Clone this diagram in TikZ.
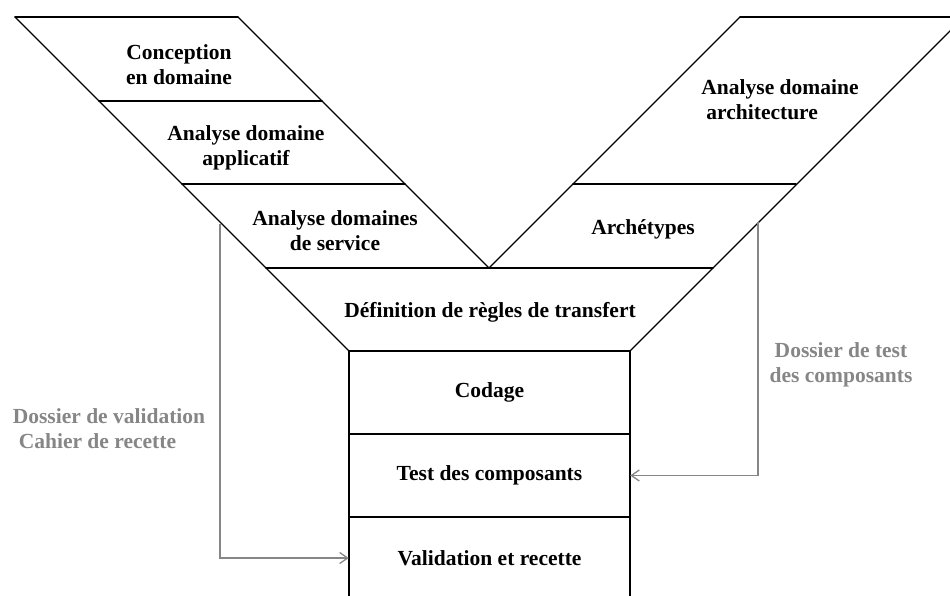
\documentclass[tikz,border=0pt]{standalone}
\usepackage{fontspec}
\setmainfont{Liberation Serif}
\usetikzlibrary{arrows.meta}
\begin{document}
\begin{tikzpicture}[x=1pt,y=-1pt,
  shape line/.style={draw=black,line width=1.6pt,line cap=round,line join=round},
  slant line/.style={draw=black,line width=1.1pt,line cap=round},
  lbl/.style={font=\fontsize{21.5}{25}\selectfont\bfseries,align=center,inner sep=0pt},
  glbl/.style={lbl,text=gray!95},
  cell/.style={minimum width=281pt,minimum height=83pt,inner sep=0pt},
  feed/.style={draw=gray!95,line width=1.4pt,-{Straight Barb[length=8pt,width=11pt,line width=1.3pt]}}]
\useasboundingbox (0,0) rectangle (950,595);
\begin{scope}
\clip (0,0) rectangle (950,595);
% left arm
\draw[slant line] (349,351) -- (15,17);
\draw[slant line] (238,17) -- (489,268);
\draw[shape line] (15,17) -- (238,17);
\draw[shape line] (99,101) -- (322,101);
\draw[shape line] (182,184) -- (405,184);
% right arm
\draw[slant line] (489,268) -- (740,17);
\draw[shape line] (740,17) -- (970,17);
\draw[slant line] (630,351) -- (970,11);
\draw[shape line] (573,184) -- (796,184);
% transfer band
\draw[shape line] (266,268) -- (713,268);
% bottom box
\draw[shape line] (349,600) -- (349,351) -- (630,351) -- (630,600);
\draw[shape line] (349,434) -- (630,434);
\draw[shape line] (349,517) -- (630,517);
\end{scope}
% cells of the bottom box (anchors)
\node[cell] (codage) at (489.5,392.5) {};
\node[cell] (test) at (489.5,475.5) {};
\node[cell] (valid) at (489.5,558) {};
% labels
\node[lbl] (conc) at (179,65) {Conception\\en domaine};
\node[lbl] (appl) at (246,148) {Analyse domaine\\applicatif};
\node[lbl] (serv) at (335,231) {Analyse domaines\\de service};
\node[lbl] (transf) at (490,312) {Définition de règles de transfert};
\node[lbl,align=left] (archi) at (780,100) {Analyse domaine\\\hspace{5pt}architecture};
\node[lbl] (arche) at (643,229) {Archétypes};
\node[lbl] at (codage) {Codage};
\node[lbl] at (test) {Test des composants};
\node[lbl] at (valid) {Validation et recette};
\node[glbl,align=left] (dval) at (109,429) {Dossier de validation\\\hspace{6pt}Cahier de recette};
\node[glbl] (dtest) at (841,365) {Dossier de test\\des composants};
% feedback connectors
\coordinate (gl) at (220,224);
\coordinate (gr) at (758,222);
\draw[feed] (gl) |- (valid.west);
\draw[feed] (gr) |- (test.east);
\end{tikzpicture}
\end{document}
